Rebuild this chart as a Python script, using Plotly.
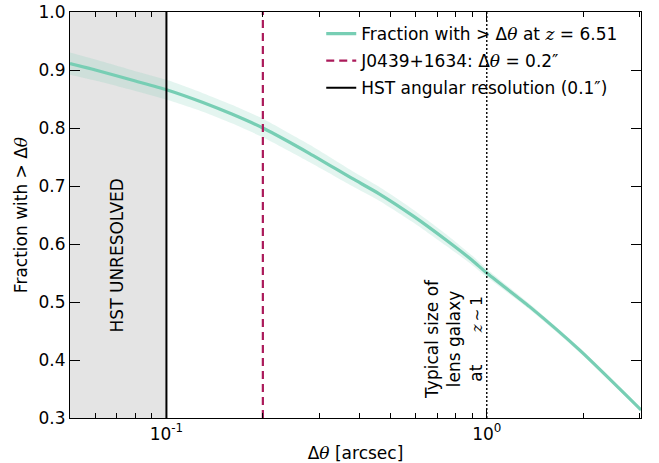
import math
import plotly.graph_objects as go

# ---- data ----
theta = [0.05, 0.06, 0.08, 0.1, 0.13, 0.16, 0.2, 0.28, 0.38, 0.46, 0.59, 0.75, 0.9, 1.0, 1.36, 1.95, 3.03]
frac = [0.911, 0.900, 0.881, 0.866, 0.844, 0.824, 0.800, 0.756, 0.713, 0.687, 0.648, 0.606, 0.572, 0.550,
        0.492, 0.417, 0.314]
frac_lo = [0.892, 0.882, 0.864, 0.849, 0.828, 0.808, 0.784, 0.741, 0.700, 0.675, 0.637, 0.596, 0.564, 0.543,
           0.487, 0.413, 0.311]
frac_hi = [0.930, 0.918, 0.898, 0.883, 0.860, 0.840, 0.816, 0.771, 0.726, 0.699, 0.659, 0.616, 0.580, 0.557,
           0.497, 0.421, 0.317]

hst_res = 0.1        # HST angular resolution
j0439_sep = 0.2      # J0439+1634 separation
lens_size = 1.0      # typical lens galaxy size
x_min, x_max = 0.05, 3.03
y_min, y_max = 0.3, 1.0

x_minor = [0.05, 0.06, 0.07, 0.08, 0.09, 0.2, 0.3, 0.4, 0.5, 0.6, 0.7, 0.8, 0.9, 2, 3]
x_major = [0.1, 1.0]
x_major_text = ["10<sup>-1</sup>", "10<sup>0</sup>"]
y_ticks = [0.3, 0.4, 0.5, 0.6, 0.7, 0.8, 0.9, 1.0]

# annotation anchors (data units)
unresolved_pos = (0.0703, 0.581)
lens_text_pos = (0.789, 0.436)

TEAL = "#77ceb4"
CRIMSON = "#ab1a5a"
FONT = "DejaVu Sans"
SERIF = "DejaVu Serif"

def m(s):
    return f'<span style="font-family:{SERIF}"><i>{s}</i></span>'

spline = dict(shape="spline", smoothing=0.6)

fig = go.Figure()

# uncertainty band
fig.add_trace(go.Scatter(x=theta, y=frac_lo, mode="lines",
                         line=dict(width=0, color=TEAL, **spline),
                         showlegend=False, hoverinfo="skip"))
fig.add_trace(go.Scatter(x=theta, y=frac_hi, mode="lines",
                         line=dict(width=0, color=TEAL, **spline),
                         fill="tonexty", fillcolor="rgba(119,206,180,0.2)",
                         showlegend=False, hoverinfo="skip"))

# main curve
fig.add_trace(go.Scatter(
    x=theta, y=frac, mode="lines", line=dict(color=TEAL, width=3.2, **spline),
    name=f"Fraction with &gt; Δ{m('θ')} at {m('z')} = 6.51", legendgroup="a"))

# J0439 dashed line
fig.add_trace(go.Scatter(
    x=[j0439_sep, j0439_sep], y=[y_min, y_max], mode="lines",
    line=dict(color=CRIMSON, width=2.2, dash="8px,5px"),
    name=f"J0439+1634: Δ{m('θ')} = 0.2″", legendgroup="b"))

# HST resolution
fig.add_trace(go.Scatter(
    x=[hst_res, hst_res], y=[y_min, y_max], mode="lines",
    line=dict(color="black", width=2),
    name="HST angular resolution (0.1″)", legendgroup="c"))

# lens galaxy dotted line
fig.add_trace(go.Scatter(
    x=[lens_size, lens_size], y=[y_min, y_max], mode="lines",
    line=dict(color="black", width=1.4, dash="2px,2px"),
    showlegend=False, hoverinfo="skip"))

# grey unresolved region
fig.add_shape(type="rect", xref="x", yref="y", x0=x_min, x1=hst_res, y0=y_min, y1=y_max,
              fillcolor="#e4e4e4", line=dict(width=0), layer="below")

fig.add_annotation(x=math.log10(unresolved_pos[0]), y=unresolved_pos[1], xref="x", yref="y",
                   text="HST UNRESOLVED", textangle=-90, showarrow=False,
                   font=dict(size=17, color="black", family=FONT))

fig.add_annotation(x=math.log10(lens_text_pos[0]), y=lens_text_pos[1], xref="x", yref="y",
                   text="Typical size of<br>lens galaxy<br>at\u00a0\u00a0\u00a0\u00a0\u00a0\u00a0"
                        f'<span style="font-size:15px">{m("z")}\u2009∼\u20091</span>',
                   textangle=-90, showarrow=False, align="center",
                   font=dict(size=17, color="black", family=FONT))

axis_common = dict(showline=True, linecolor="black", linewidth=1.2, mirror="ticks",
                   ticks="inside", tickcolor="black", showgrid=False, zeroline=False,
                   tickfont=dict(size=17, color="black", family=FONT))

fig.update_xaxes(type="log", range=[math.log10(x_min), math.log10(x_max)],
                 tickvals=x_major, ticktext=x_major_text, ticklen=9, tickwidth=1.2,
                 minor=dict(tickvals=x_minor, ticks="inside", ticklen=5, tickcolor="black", tickwidth=1),
                 title=dict(text=f"Δ{m('θ')} [arcsec]", font=dict(size=17, color="black", family=FONT),
                            standoff=4),
                 automargin=False, **axis_common)
fig.update_yaxes(range=[y_min, y_max], tickvals=y_ticks, tickformat=".1f", ticklen=10, tickwidth=1.2,
                 title=dict(text=f"Fraction with &gt; Δ{m('θ')}", font=dict(size=17, color="black", family=FONT),
                            standoff=6),
                 automargin=False, **axis_common)

fig.update_layout(
    width=659, height=463,
    margin=dict(l=70, r=18, t=12, b=45),
    plot_bgcolor="white", paper_bgcolor="white",
    font=dict(family=FONT, size=17, color="black"),
    legend=dict(x=0.44, y=0.99, xanchor="left", yanchor="top", bgcolor="rgba(0,0,0,0)",
                font=dict(size=17, color="black", family=FONT), tracegroupgap=2,
                traceorder="grouped"),
    showlegend=True,
)

fig.write_html("out.html", config={"displayModeBar": False},
               post_script="document.body.style.margin='0';")
